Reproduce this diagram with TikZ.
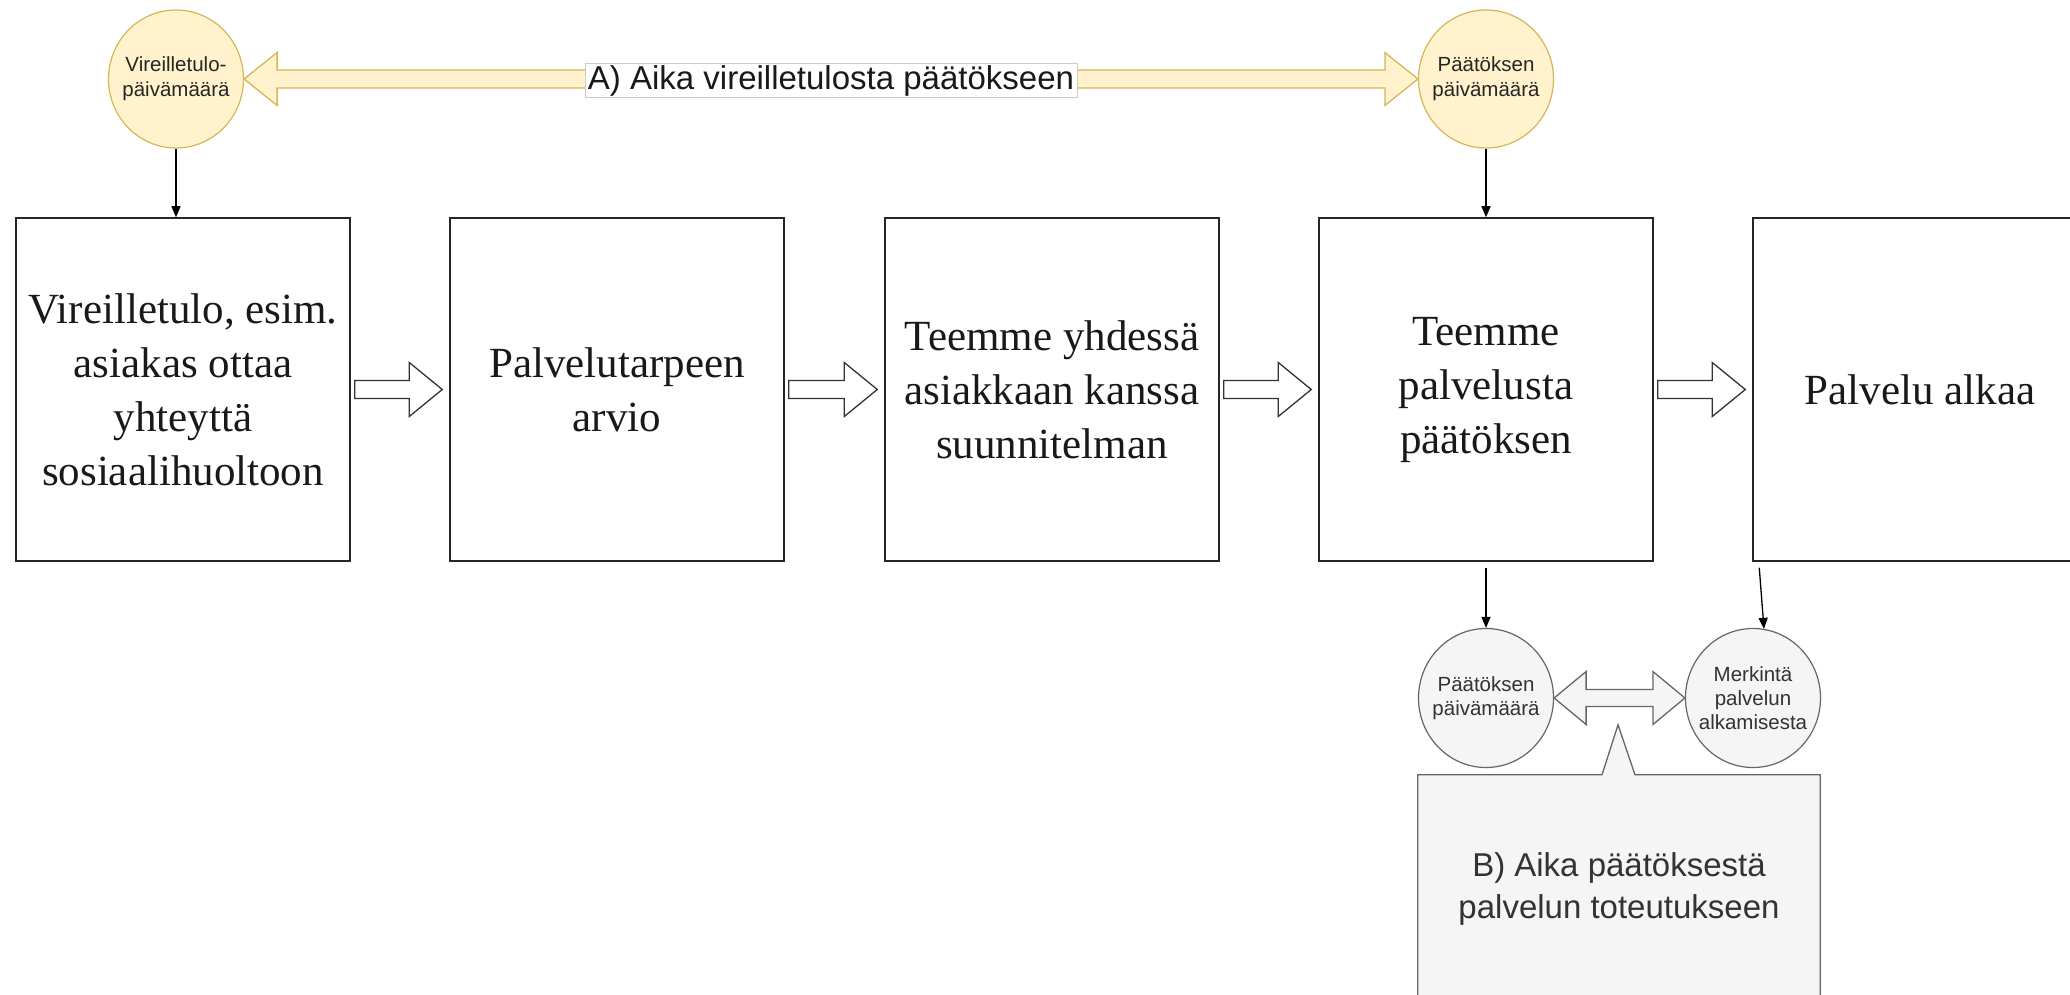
\documentclass[tikz,border=0pt]{standalone}
\usepackage{fontspec}
\setmainfont{Liberation Serif}
\newfontfamily\sansf{Liberation Sans}
\usetikzlibrary{calc,shapes.geometric,arrows.meta,backgrounds}
\definecolor{yfill}{HTML}{FFF2CC}
\definecolor{ydraw}{HTML}{D6B656}
\definecolor{gfill}{HTML}{F5F5F5}
\definecolor{gdraw}{HTML}{666666}
\definecolor{gtext}{HTML}{333333}
% double hollow arrow: #1 style, #2 left tip, #3 right tip, #4 head length, #5 head half, #6 shaft half
\newcommand{\mydarrow}[6]{%
  \draw[#1] (#2) -- ($(#2)+(#4,-#5)$) -- ($(#2)+(#4,-#6)$) -- ($(#3)+(-#4,-#6)$) -- ($(#3)+(-#4,-#5)$) -- (#3)
    -- ($(#3)+(-#4,#5)$) -- ($(#3)+(-#4,#6)$) -- ($(#2)+(#4,#6)$) -- ($(#2)+(#4,#5)$) -- cycle;}
% single hollow arrow: #1 start, #2 tip
\newcommand{\mysarrow}[2]{%
  \draw[hollow] ($(#1)+(0,-9)$) -- ($(#2)+(-33,-9)$) -- ($(#2)+(-33,-27)$) -- (#2)
    -- ($(#2)+(-33,27)$) -- ($(#2)+(-33,9)$) -- ($(#1)+(0,9)$) -- cycle;}
\begin{document}
\begin{tikzpicture}[x=1pt,y=-1pt,
  box/.style={draw=black!85, line width=1.5pt, fill=white, minimum width=334pt, minimum height=343pt,
    align=center, inner sep=0pt, font=\fontsize{43}{54}\selectfont, text=black!90},
  ycirc/.style={ellipse, draw=ydraw, fill=yfill, line width=1.2pt, minimum width=135pt, minimum height=138pt,
    inner xsep=-8pt, inner ysep=0pt, align=center, font=\sansf\fontsize{20.5}{25}\selectfont, text=black!85},
  gcirc/.style={ellipse, draw=gdraw, fill=gfill, line width=1.2pt, minimum width=135pt, minimum height=139pt,
    inner xsep=-8pt, inner ysep=0pt, align=center, font=\sansf\fontsize{20.5}{24}\selectfont, text=gtext},
  hollow/.style={draw=black!80, fill=white, line width=1.3pt, line join=miter},
  conn/.style={draw=black, line width=1.3pt, -{Triangle[length=11pt,width=9pt]}},
  yarr/.style={draw=ydraw, fill=yfill, line width=1.3pt},
  garr/.style={draw=gdraw, fill=gfill, line width=1.3pt},
  alabel/.style={fill=white, draw=black!20, line width=0.8pt, inner xsep=3pt, inner ysep=2pt,
    font=\sansf\fontsize{33}{38}\selectfont, text=black!90},
  blabel/.style={align=center, minimum width=402pt, minimum height=228pt, inner sep=0pt,
    font=\sansf\fontsize{33}{42}\selectfont, text=gtext}
]
\useasboundingbox (0,0) rectangle (2070,995);
\clip (0,0) rectangle (2070,995);
\begin{scope}[on background layer]
  \fill[white] (0,0) rectangle (2070,995);
\end{scope}

% main boxes
\node[box] (b1) at (183,389.5) {Vireilletulo, esim.\\asiakas ottaa\\yhteyttä\\sosiaalihuoltoon};
\node[box] (b2) at (617,389.5) {Palvelutarpeen\\arvio};
\node[box] (b3) at (1052,389.5) {Teemme yhdessä\\asiakkaan kanssa\\suunnitelman};
\node[box] (b4) at (1486,389.5) {Teemme\\palvelusta\\päätöksen};
\node[box] (b5) at (1920,389.5) {Palvelu alkaa};

% hollow arrows between boxes
\coordinate (a1s) at ($(b1.east)+(4,0)$); \coordinate (a1e) at ($(b2.west)+(-7,0)$);
\coordinate (a2s) at ($(b2.east)+(4,0)$); \coordinate (a2e) at ($(b3.west)+(-7,0)$);
\coordinate (a3s) at ($(b3.east)+(4,0)$); \coordinate (a3e) at ($(b4.west)+(-7,0)$);
\coordinate (a4s) at ($(b4.east)+(4,0)$); \coordinate (a4e) at ($(b5.west)+(-7,0)$);
\mysarrow{a1s}{a1e}
\mysarrow{a2s}{a2e}
\mysarrow{a3s}{a3e}
\mysarrow{a4s}{a4e}

% top circles
\node[ycirc] (v1) at (176,79) {Vireilletulo-\\päivämäärä};
\node[ycirc] (v2) at (1486,79) {Päätöksen\\päivämäärä};
\mydarrow{yarr}{v1.east}{v2.west}{33}{26.5}{9}
\node[alabel] (la) at ($(v1.east)!0.5!(v2.west)+(0,1.5)$) {A) Aika vireilletulosta päätökseen};

\draw[conn] (v1.south) -- (v1.south |- b1.north);
\draw[conn] (v2.south) -- (b4.north);

% bottom circles
\node[gcirc] (c1) at (1486,698) {Päätöksen\\päivämäärä};
\node[gcirc] (c2) at (1753,698) {Merkintä\\palvelun\\alkamisesta};
\mydarrow{garr}{c1.east}{c2.west}{32}{26.5}{8.5}

\coordinate (b4d) at ($(b4.south)+(0,6)$);
\draw[conn] (b4d) -- (c1.north);
\coordinate (b5d) at ($(b5.south west)+(7,6)$);
\coordinate (c2t) at ($(c2.north)+(11,1)$);
\draw[conn] (b5d) -- (c2t);

% callout B
\node[blabel] (cb) at (1619,889) {B) Aika päätöksestä\\palvelun toteutukseen};
\begin{scope}[on background layer]
  \draw[garr] (cb.north west) -- ($(cb.north)+(-17,0)$) -- ($(cb.north)+(-1,-50)$) -- ($(cb.north)+(16,0)$)
    -- (cb.north east) -- (cb.south east) -- (cb.south west) -- cycle;
\end{scope}
\end{tikzpicture}
\end{document}
